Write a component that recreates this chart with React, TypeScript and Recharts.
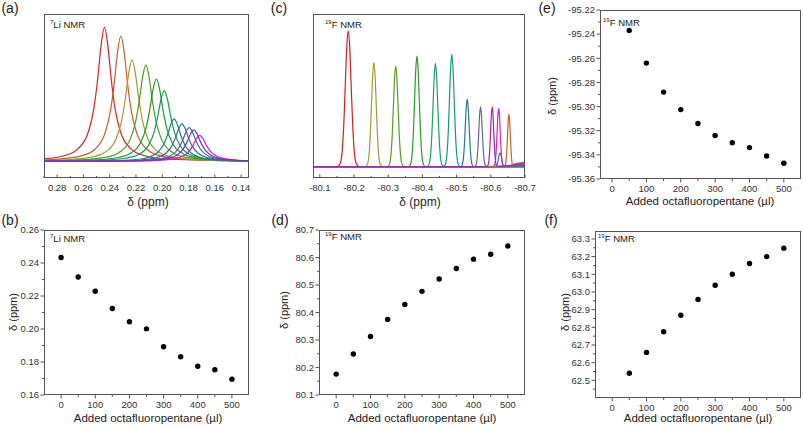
// NMR titration figure: 7Li / 19F spectra (a, c) and chemical shift vs.
// added octafluoropentane (b, d, e, f). Six small Recharts panels laid out
// absolutely on an 803x428 page.

import React from "react";
import {
  LineChart,
  Line,
  ScatterChart,
  Scatter,
  XAxis,
  YAxis,
} from "recharts";

// ---- (a) 7Li spectra: [delta ppm, intensity] ----
const LI_1 = [[0.29, 0.02], [0.274, 0.045], [0.264, 0.096], [0.256, 0.227], [0.252, 0.398], [0.249, 0.628], [0.2465, 0.871], [0.244, 1], [0.2415, 0.871], [0.239, 0.628], [0.236, 0.398], [0.232, 0.227], [0.224, 0.096], [0.214, 0.045], [0.194, 0.017], [0.134, 0.004]];
const LI_2 = [[0.29, 0.011], [0.2815, 0.016], [0.2615, 0.042], [0.2515, 0.089], [0.2435, 0.213], [0.2395, 0.373], [0.2365, 0.588], [0.234, 0.816], [0.2315, 0.937], [0.229, 0.816], [0.2265, 0.588], [0.2235, 0.373], [0.2195, 0.213], [0.2115, 0.089], [0.2015, 0.042], [0.1815, 0.016], [0.134, 0.004]];
const LI_3 = [[0.29, 0.007], [0.273, 0.013], [0.253, 0.034], [0.243, 0.072], [0.235, 0.172], [0.231, 0.301], [0.228, 0.475], [0.2255, 0.659], [0.223, 0.757], [0.2205, 0.659], [0.218, 0.475], [0.215, 0.301], [0.211, 0.172], [0.203, 0.072], [0.193, 0.034], [0.173, 0.013], [0.134, 0.004]];
const LI_4 = [[0.29, 0.005], [0.2625, 0.012], [0.2425, 0.032], [0.2325, 0.069], [0.2245, 0.163], [0.2205, 0.287], [0.2175, 0.452], [0.215, 0.627], [0.2125, 0.72], [0.21, 0.627], [0.2075, 0.452], [0.2045, 0.287], [0.2005, 0.163], [0.1925, 0.069], [0.1825, 0.032], [0.1625, 0.012], [0.134, 0.005]];
const LI_5 = [[0.29, 0.004], [0.2545, 0.01], [0.2345, 0.028], [0.2245, 0.059], [0.2165, 0.14], [0.2125, 0.245], [0.2095, 0.387], [0.207, 0.537], [0.2045, 0.616], [0.202, 0.537], [0.1995, 0.387], [0.1965, 0.245], [0.1925, 0.14], [0.1845, 0.059], [0.1745, 0.028], [0.1545, 0.01], [0.134, 0.005]];
const LI_6 = [[0.29, 0.003], [0.2485, 0.009], [0.2285, 0.024], [0.2185, 0.05], [0.2105, 0.12], [0.2065, 0.21], [0.2035, 0.332], [0.201, 0.46], [0.1985, 0.528], [0.196, 0.46], [0.1935, 0.332], [0.1905, 0.21], [0.1865, 0.12], [0.1785, 0.05], [0.1685, 0.024], [0.1485, 0.009], [0.134, 0.005]];
const LI_7 = [[0.29, 0.002], [0.241, 0.005], [0.221, 0.014], [0.211, 0.03], [0.203, 0.072], [0.199, 0.126], [0.196, 0.199], [0.1935, 0.276], [0.191, 0.317], [0.1885, 0.276], [0.186, 0.199], [0.183, 0.126], [0.179, 0.072], [0.171, 0.03], [0.161, 0.014], [0.134, 0.004]];
const LI_8 = [[0.29, 0.002], [0.235, 0.005], [0.215, 0.013], [0.205, 0.027], [0.197, 0.064], [0.193, 0.111], [0.19, 0.176], [0.1875, 0.244], [0.185, 0.28], [0.1825, 0.244], [0.18, 0.176], [0.177, 0.111], [0.173, 0.064], [0.165, 0.027], [0.155, 0.013], [0.134, 0.005]];
const LI_9 = [[0.29, 0.002], [0.2295, 0.004], [0.2095, 0.011], [0.1995, 0.024], [0.1915, 0.057], [0.1875, 0.1], [0.1845, 0.158], [0.182, 0.219], [0.1795, 0.252], [0.177, 0.219], [0.1745, 0.158], [0.1715, 0.1], [0.1675, 0.057], [0.1595, 0.024], [0.1495, 0.011], [0.134, 0.005]];
const LI_10 = [[0.29, 0.002], [0.226, 0.004], [0.206, 0.011], [0.196, 0.022], [0.188, 0.053], [0.184, 0.094], [0.181, 0.148], [0.1785, 0.205], [0.176, 0.235], [0.1735, 0.205], [0.171, 0.148], [0.168, 0.094], [0.164, 0.053], [0.156, 0.022], [0.146, 0.011], [0.134, 0.006]];
const LI_11 = [[0.29, 0.002], [0.2215, 0.003], [0.2015, 0.009], [0.1915, 0.019], [0.1835, 0.044], [0.1795, 0.078], [0.1765, 0.122], [0.174, 0.17], [0.1715, 0.195], [0.169, 0.17], [0.1665, 0.122], [0.1635, 0.078], [0.1595, 0.044], [0.1515, 0.019], [0.1415, 0.009], [0.134, 0.006]];
const LI_SPECTRA = [LI_1, LI_2, LI_3, LI_4, LI_5, LI_6, LI_7, LI_8, LI_9, LI_10, LI_11];
const LI_COLORS = ["#e41e1e", "#cc5a28", "#a49a2c", "#4a9e22", "#1f9a2e", "#169a5a", "#17897a", "#2a6c9e", "#56679a", "#6a36c8", "#d21ed2"];
const LI_TICKS = [0.28, 0.26, 0.24, 0.22, 0.2, 0.18, 0.16, 0.14];
const LI_MINOR = [0.29, 0.27, 0.25, 0.23, 0.21, 0.19, 0.17, 0.15];

// ---- (c) 19F spectra ----
const F_1 = [[-80.08, 0], [-80.151, 0], [-80.1596, 0.023], [-80.166, 0.135], [-80.1703, 0.325], [-80.1745, 0.607], [-80.1788, 0.882], [-80.183, 1], [-80.1873, 0.882], [-80.1915, 0.607], [-80.1958, 0.325], [-80.2, 0.135], [-80.2064, 0.023], [-80.215, 0], [-80.7, 0]];
const F_2 = [[-80.08, 0], [-80.2325, 0], [-80.2393, 0.018], [-80.2444, 0.104], [-80.2478, 0.25], [-80.2512, 0.466], [-80.2546, 0.677], [-80.258, 0.768], [-80.2614, 0.677], [-80.2648, 0.466], [-80.2682, 0.25], [-80.2716, 0.104], [-80.2767, 0.018], [-80.2835, 0], [-80.7, 0]];
const F_3 = [[-80.08, 0], [-80.2965, 0], [-80.3033, 0.017], [-80.3084, 0.1], [-80.3118, 0.24], [-80.3152, 0.449], [-80.3186, 0.653], [-80.322, 0.74], [-80.3254, 0.653], [-80.3288, 0.449], [-80.3322, 0.24], [-80.3356, 0.1], [-80.3407, 0.017], [-80.3475, 0], [-80.7, 0]];
const F_4 = [[-80.08, 0], [-80.3585, 0], [-80.3653, 0.019], [-80.3704, 0.11], [-80.3738, 0.265], [-80.3772, 0.494], [-80.3806, 0.718], [-80.384, 0.814], [-80.3874, 0.718], [-80.3908, 0.494], [-80.3942, 0.265], [-80.3976, 0.11], [-80.4027, 0.019], [-80.4095, 0], [-80.7, 0]];
const F_5 = [[-80.08, 0], [-80.4125, 0], [-80.4193, 0.017], [-80.4244, 0.103], [-80.4278, 0.247], [-80.4312, 0.461], [-80.4346, 0.67], [-80.438, 0.76], [-80.4414, 0.67], [-80.4448, 0.461], [-80.4482, 0.247], [-80.4516, 0.103], [-80.4567, 0.017], [-80.4635, 0], [-80.7, 0]];
const F_6 = [[-80.08, 0], [-80.4605, 0], [-80.4673, 0.019], [-80.4724, 0.112], [-80.4758, 0.268], [-80.4792, 0.501], [-80.4826, 0.729], [-80.486, 0.826], [-80.4894, 0.729], [-80.4928, 0.501], [-80.4962, 0.268], [-80.4996, 0.112], [-80.5047, 0.019], [-80.5115, 0], [-80.7, 0]];
const F_7 = [[-80.08, 0], [-80.5104, 0], [-80.5159, 0.011], [-80.52, 0.067], [-80.5228, 0.162], [-80.5255, 0.302], [-80.5283, 0.439], [-80.531, 0.498], [-80.5338, 0.439], [-80.5365, 0.302], [-80.5393, 0.162], [-80.542, 0.067], [-80.5461, 0.011], [-80.5516, 0], [-80.615, 0.003], [-80.621, 0.04], [-80.624, 0.085], [-80.627, 0.1], [-80.63, 0.085], [-80.633, 0.04], [-80.639, 0.005], [-80.7, 0.01]];
const F_8 = [[-80.08, 0], [-80.5512, 0], [-80.5562, 0.01], [-80.56, 0.06], [-80.5625, 0.143], [-80.565, 0.268], [-80.5675, 0.389], [-80.57, 0.441], [-80.5725, 0.389], [-80.575, 0.268], [-80.5775, 0.143], [-80.58, 0.06], [-80.5838, 0.01], [-80.5888, 0], [-80.7, 0.02]];
const F_9 = [[-80.08, 0], [-80.5871, 0], [-80.5916, 0.01], [-80.595, 0.06], [-80.5973, 0.143], [-80.5995, 0.268], [-80.6018, 0.389], [-80.604, 0.441], [-80.6063, 0.389], [-80.6085, 0.268], [-80.6108, 0.143], [-80.613, 0.06], [-80.6164, 0.01], [-80.6209, 0], [-80.7, 0.03]];
const F_10 = [[-80.08, 0], [-80.6061, 0], [-80.6106, 0.01], [-80.614, 0.058], [-80.6163, 0.139], [-80.6185, 0.26], [-80.6208, 0.378], [-80.623, 0.429], [-80.6253, 0.378], [-80.6275, 0.26], [-80.6298, 0.139], [-80.632, 0.058], [-80.6354, 0.01], [-80.6399, 0], [-80.7, 0.02]];
const F_11 = [[-80.08, 0], [-80.638, 0], [-80.642, 0.009], [-80.645, 0.052], [-80.647, 0.126], [-80.649, 0.235], [-80.651, 0.341], [-80.653, 0.387], [-80.655, 0.341], [-80.657, 0.235], [-80.659, 0.126], [-80.661, 0.052], [-80.664, 0.009], [-80.668, 0.02], [-80.7, 0.03]];
const F_SPECTRA = [F_1, F_2, F_3, F_4, F_5, F_6, F_7, F_8, F_9, F_10, F_11];
const F_COLORS = ["#e41818", "#a49a32", "#5c9a22", "#24a024", "#1ea060", "#129a78", "#2a72a8", "#66669a", "#a41ed2", "#e01ec4", "#d0621e"];
const F_TICKS = [-80.1, -80.2, -80.3, -80.4, -80.5, -80.6, -80.7];
const F_MINOR = [-80.15, -80.25, -80.35, -80.45, -80.55, -80.65];

// ---- (b) 7Li shift ----
const ADDED_B = [0, 50, 100, 150, 200, 250, 300, 350, 400, 450, 500];
const LI_SHIFT = [0.2433, 0.2315, 0.2229, 0.2124, 0.2044, 0.2001, 0.1892, 0.1832, 0.1774, 0.1753, 0.1696];
const B_YTICKS = [0.16, 0.18, 0.2, 0.22, 0.24, 0.26];
const B_YMINOR = [0.17, 0.19, 0.21, 0.23, 0.25];

// ---- (d) 19F shift ----
const ADDED_D = [0, 50, 100, 150, 200, 250, 300, 350, 400, 450, 500];
const CF3_SHIFT = [80.176, 80.249, 80.313, 80.375, 80.429, 80.477, 80.522, 80.56, 80.594, 80.612, 80.642];
const D_YTICKS = [80.1, 80.2, 80.3, 80.4, 80.5, 80.6, 80.7];
const D_YMINOR = [80.15, 80.25, 80.35, 80.45, 80.55, 80.65];

// ---- (e) 19F shift ----
const ADDED_E = [50, 100, 150, 200, 250, 300, 350, 400, 450, 500];
const CF2_SHIFT = [-95.237, -95.264, -95.288, -95.3025, -95.314, -95.324, -95.33, -95.334, -95.341, -95.347];
const E_YTICKS = [-95.36, -95.34, -95.32, -95.3, -95.28, -95.26, -95.24, -95.22];
const E_YMINOR = [-95.35, -95.33, -95.31, -95.29, -95.27, -95.25, -95.23];

// ---- (f) 19F shift ----
const ADDED_F = [50, 100, 150, 200, 250, 300, 350, 400, 450, 500];
const CF_SHIFT_F = [62.54, 62.658, 62.775, 62.868, 62.958, 63.038, 63.1, 63.161, 63.2, 63.248];
const F_YTICKS = [62.5, 62.6, 62.7, 62.8, 62.9, 63.0, 63.1, 63.2, 63.3];
const F_YMINOR = [62.45, 62.55, 62.65, 62.75, 62.85, 62.95, 63.05, 63.15, 63.25];

const X_TICKS = [0, 100, 200, 300, 400, 500];
const X_MINOR = [-50, 50, 150, 250, 350, 450, 550];

const FONT = "'Liberation Sans', Arial, sans-serif";
const AXIS = "#555";
const PAD = { l: 44, r: 14, t: 8, b: 24 };
const tickStyle = { fontSize: 9.5, fill: "#333", fontFamily: FONT };

type Box = { x: number; y: number; w: number; h: number };

function place(box: Box): React.CSSProperties {
  return { position: "absolute", left: box.x - PAD.l, top: box.y - PAD.t };
}

const isIn = (list: number[], v: number) => list.some((m) => Math.abs(m - v) < 1e-9);

// bottom-axis tick: line drawn by hand so minor ticks can be shorter
function xTick(major: number[], digits: number, inward: boolean) {
  return (p: any) => {
    const v = p.payload.value as number;
    const big = isIn(major, v);
    const y0 = p.y - 4;
    const len = big ? 3.5 : 2;
    return (
      <g>
        <line x1={p.x} x2={p.x} y1={y0} y2={inward ? y0 - len : y0 + len} stroke={AXIS} />
        {big && (
          <text x={p.x} y={p.y + 2} dy="0.71em" textAnchor="middle" {...tickStyle}>
            {v.toFixed(digits)}
          </text>
        )}
      </g>
    );
  };
}

function yTick(major: number[], digits: number) {
  return (p: any) => {
    const v = p.payload.value as number;
    const big = isIn(major, v);
    const x0 = p.x + 5;
    const len = big ? 3.5 : 2;
    return (
      <g>
        <line x1={x0} x2={x0 - len} y1={p.y} y2={p.y} stroke={AXIS} />
        {big && (
          <text x={p.x} y={p.y} dy="0.35em" textAnchor="end" {...tickStyle}>
            {v.toFixed(digits)}
          </text>
        )}
      </g>
    );
  };
}

// plain frame around the plotting area (Origin-style closed box)
function Frame({ box }: { box: Box }) {
  return (
    <div
      style={{
        position: "absolute",
        left: PAD.l,
        top: PAD.t,
        width: box.w,
        height: box.h,
        border: `1px solid ${AXIS}`,
        boxSizing: "border-box",
        pointerEvents: "none",
      }}
    />
  );
}

const toPts = (arr: number[][]) => arr.map(([x, y]) => ({ x, y }));

function Spectra({
  box,
  curves,
  colors,
  top,
  xDomain,
  yDomain,
  ticks,
  minor,
  digits,
}: {
  box: Box;
  curves: number[][][];
  colors: string[];
  top: number;
  xDomain: [number, number];
  yDomain: [number, number];
  ticks: number[];
  minor: number[];
  digits: number;
}) {
  // draw the "top" trace last so its baseline sits above the others
  const order = curves.map((_, i) => i).filter((i) => i !== top).concat(top);
  return (
    <div style={place(box)}>
      <LineChart
        width={box.w + PAD.l + PAD.r}
        height={box.h + PAD.t + PAD.b}
        margin={{ top: PAD.t, right: PAD.r, bottom: 0, left: PAD.l }}
      >
        <XAxis
          dataKey="x"
          type="number"
          domain={xDomain}
          reversed
          allowDataOverflow
          ticks={[...ticks, ...minor]}
          interval={0}
          tick={xTick(ticks, digits, true)}
          tickSize={3}
          tickMargin={1}
          height={PAD.b}
          axisLine={false}
          tickLine={false}
        />
        <YAxis type="number" domain={yDomain} allowDataOverflow hide />
        {order.map((i) => (
          <Line
            key={i}
            data={toPts(curves[i])}
            dataKey="y"
            type="monotone"
            stroke={colors[i]}
            strokeWidth={1.2}
            dot={false}
            isAnimationActive={false}
          />
        ))}
      </LineChart>
      <Frame box={box} />
    </div>
  );
}

const Dot = (p: { cx?: number; cy?: number }) => (
  <circle cx={p.cx} cy={p.cy} r={2.7} fill="#000" />
);

function Shift({
  box,
  xs,
  ys,
  xDomain,
  yDomain,
  yTicks,
  yMinor,
  digits,
}: {
  box: Box;
  xs: number[];
  ys: number[];
  xDomain: [number, number];
  yDomain: [number, number];
  yTicks: number[];
  yMinor: number[];
  digits: number;
}) {
  const data = xs.map((x, i) => ({ x, y: ys[i] }));
  const xMinor = X_MINOR.filter((v) => v > xDomain[0] && v < xDomain[1]);
  const yMin = yMinor.filter((v) => v > yDomain[0] && v < yDomain[1]);
  return (
    <div style={place(box)}>
      <ScatterChart
        width={box.w + PAD.l + PAD.r}
        height={box.h + PAD.t + PAD.b}
        margin={{ top: PAD.t, right: PAD.r, bottom: 0, left: 0 }}
      >
        <XAxis
          dataKey="x"
          type="number"
          domain={xDomain}
          allowDataOverflow
          ticks={[...X_TICKS, ...xMinor]}
          interval={0}
          tick={xTick(X_TICKS, 0, false)}
          tickSize={3}
          tickMargin={1}
          height={PAD.b}
          axisLine={false}
          tickLine={false}
        />
        <YAxis
          dataKey="y"
          type="number"
          domain={yDomain}
          allowDataOverflow
          ticks={[...yTicks, ...yMin]}
          interval={0}
          tick={yTick(yTicks, digits)}
          tickSize={3}
          tickMargin={2}
          width={PAD.l}
          axisLine={false}
          tickLine={false}
        />
        <Scatter data={data} fill="#000" shape={Dot} isAnimationActive={false} />
      </ScatterChart>
      <Frame box={box} />
    </div>
  );
}

function Txt({
  x,
  y,
  size,
  rotate,
  children,
}: {
  x: number;
  y: number;
  size: number;
  rotate?: boolean;
  children: React.ReactNode;
}) {
  return (
    <div
      style={{
        position: "absolute",
        left: x,
        top: y,
        fontSize: size,
        lineHeight: 1,
        whiteSpace: "nowrap",
        color: "#222",
        transform: `translate(-50%, -50%)${rotate ? " rotate(-90deg)" : ""}`,
      }}
    >
      {children}
    </div>
  );
}

function Nmr({ x, y, iso, el }: { x: number; y: number; iso: string; el: string }) {
  return (
    <div
      style={{
        position: "absolute",
        left: x,
        top: y,
        fontSize: 9.5,
        lineHeight: 1,
        whiteSpace: "nowrap",
        color: "#222",
        transform: "translateY(-50%)",
      }}
    >
      <sup style={{ fontSize: 6, verticalAlign: "4px" }}>{iso}</sup>
      {el} NMR
    </div>
  );
}

const BOX_A = { x: 44, y: 14, w: 205, h: 164 };
const BOX_B = { x: 44, y: 230, w: 205, h: 165 };
const BOX_C = { x: 313, y: 14, w: 212, h: 164 };
const BOX_D = { x: 319, y: 230, w: 206, h: 165 };
const BOX_E = { x: 600, y: 10, w: 201, h: 169 };
const BOX_F = { x: 595, y: 231, w: 206, h: 167 };

const ADDED_LABEL = "Added octafluoropentane (\u00b5l)";

export default function App() {
  return (
    <div
      style={{
        position: "absolute",
        left: 0,
        top: 0,
        width: 803,
        height: 428,
        overflow: "hidden",
        background: "#fff",
        fontFamily: FONT,
      }}
    >
      <Spectra box={BOX_A} curves={LI_SPECTRA} colors={LI_COLORS} top={9} xDomain={[0.134, 0.29]} yDomain={[-0.123, 1.099]} ticks={LI_TICKS} minor={LI_MINOR} digits={2} />
      <Spectra box={BOX_C} curves={F_SPECTRA} colors={F_COLORS} top={8} xDomain={[-80.7, -80.08]} yDomain={[-0.083, 1.123]} ticks={F_TICKS} minor={F_MINOR} digits={1} />
      <Shift box={BOX_B} xs={ADDED_B} ys={LI_SHIFT} xDomain={[-50, 550]} yDomain={[0.16, 0.26]} yTicks={B_YTICKS} yMinor={B_YMINOR} digits={2} />
      <Shift box={BOX_D} xs={ADDED_D} ys={CF3_SHIFT} xDomain={[-50, 550]} yDomain={[80.1, 80.7]} yTicks={D_YTICKS} yMinor={D_YMINOR} digits={1} />
      <Shift box={BOX_E} xs={ADDED_E} ys={CF2_SHIFT} xDomain={[-35, 550]} yDomain={[-95.36, -95.22]} yTicks={E_YTICKS} yMinor={E_YMINOR} digits={2} />
      <Shift box={BOX_F} xs={ADDED_F} ys={CF_SHIFT_F} xDomain={[-50, 550]} yDomain={[62.4, 63.345]} yTicks={F_YTICKS} yMinor={F_YMINOR} digits={1} />

      {/* panel letters */}
      <Txt x={10} y={8} size={14}>(a)</Txt>
      <Txt x={10} y={220} size={14}>(b)</Txt>
      <Txt x={279} y={8} size={14}>(c)</Txt>
      <Txt x={280} y={220} size={14}>(d)</Txt>
      <Txt x={547} y={8} size={14}>(e)</Txt>
      <Txt x={551} y={220} size={14}>(f)</Txt>

      {/* in-plot labels */}
      <Nmr x={50} y={24} iso="7" el="Li" />
      <Nmr x={50} y={238} iso="7" el="Li" />
      <Nmr x={325} y={24} iso="19" el="F" />
      <Nmr x={325} y={236} iso="19" el="F" />
      <Nmr x={603} y={22} iso="19" el="F" />
      <Nmr x={598} y={238} iso="19" el="F" />

      {/* axis titles */}
      <Txt x={148} y={202} size={12}>δ (ppm)</Txt>
      <Txt x={420} y={202} size={12}>δ (ppm)</Txt>
      <Txt x={700} y={202} size={11.5}>{ADDED_LABEL}</Txt>
      <Txt x={148} y={419} size={11.5}>{ADDED_LABEL}</Txt>
      <Txt x={422} y={419} size={11.5}>{ADDED_LABEL}</Txt>
      <Txt x={698} y={419} size={11.5}>{ADDED_LABEL}</Txt>
      <Txt x={13} y={312} size={11} rotate>δ (ppm)</Txt>
      <Txt x={284} y={310} size={11} rotate>δ (ppm)</Txt>
      <Txt x={552} y={96} size={11} rotate>δ (ppm)</Txt>
      <Txt x={565} y={312} size={11} rotate>δ (ppm)</Txt>
    </div>
  );
}
